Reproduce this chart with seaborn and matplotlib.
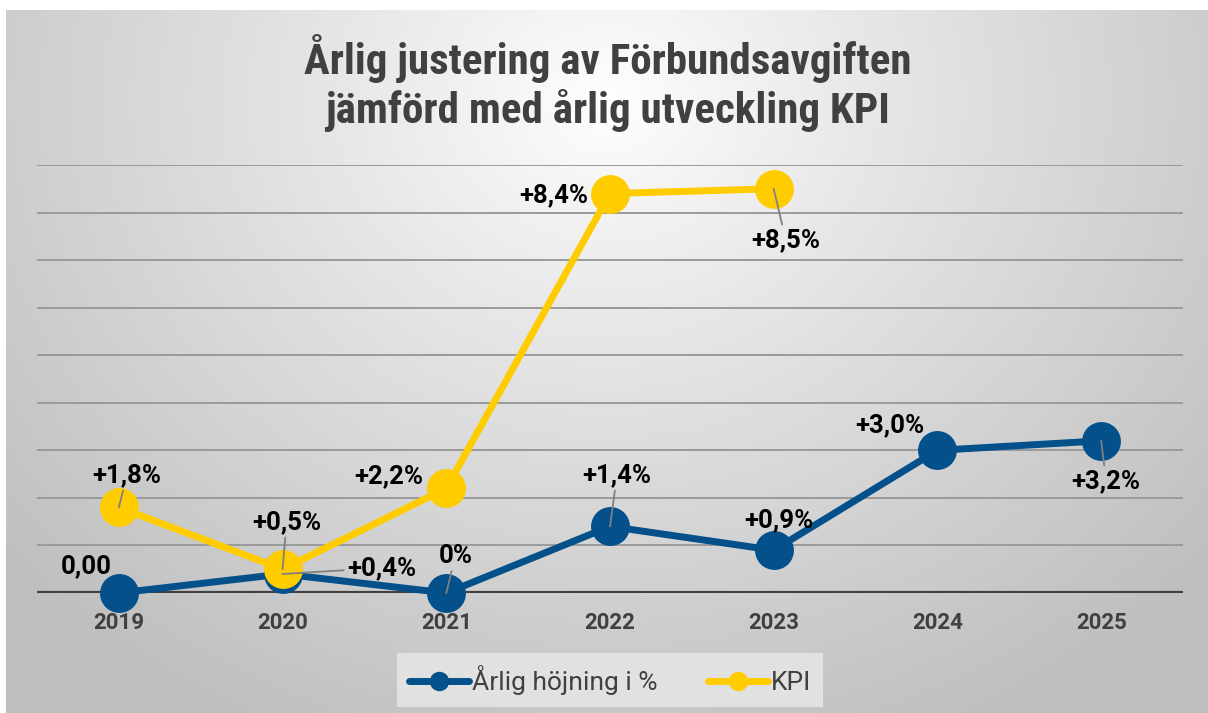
import numpy as np
import pandas as pd
import matplotlib
matplotlib.use('Agg')
import matplotlib.pyplot as plt
import seaborn as sns
from matplotlib.lines import Line2D

# Data
years = ['2019', '2020', '2021', '2022', '2023', '2024', '2025']
avgift = [0.0, 0.4, 0.0, 1.4, 0.9, 3.0, 3.2]
kpi = [1.8, 0.5, 2.2, 8.4, 8.5]
avgift_labels = ['0,00', '+0,4%', '0%', '+1,4%', '+0,9%', '+3,0%', '+3,2%']
kpi_labels = ['+1,8%', '+0,5%', '+2,2%', '+8,4%', '+8,5%']
series_names = ['Årlig höjning i %', 'KPI']

BLUE = '#03508A'
YELLOW = '#FFCC00'
TEXT_GREY = '#404040'

# label offsets in pixels (dx, dy, draw leader line)
avgift_offsets = [(-33, 27, False), (99, 6, True), (9, 37, True), (7, 51, True),
                  (5, 30, False), (-48, 25, False), (5, -40, True)]
kpi_offsets = [(8, 32, True), (4, 47, True), (-58, 12, False), (-56, -2, False),
               (12, -51, True)]

df = pd.concat([
    pd.DataFrame({'pos': range(len(avgift)), 'value': avgift, 'series': series_names[0]}),
    pd.DataFrame({'pos': range(len(kpi)), 'value': kpi, 'series': series_names[1]}),
], ignore_index=True)

sns.set_theme(style='white')
plt.rcParams['font.family'] = ['Roboto', 'DejaVu Sans']

fig = plt.figure(figsize=(12.08, 7.13), dpi=100)
fig.patch.set_facecolor('white')

# radial grey gradient behind the chart
bg = fig.add_axes([6 / 1208, 0, 1 - 6 / 1208, 1 - 10 / 713], zorder=-10)
h, w = 703, 1202
yy, xx = np.mgrid[0:h, 0:w]
d = np.sqrt(((xx - 600) / 800.0) ** 2 + ((yy - 90) / 700.0) ** 2)
shade = 255 - 64 * np.clip(d, 0, 1) ** 0.9
img = np.dstack([shade, shade, shade]).astype(np.uint8)
bg.imshow(img, aspect='auto', interpolation='bilinear')
bg.set_axis_off()

ax = fig.add_axes([37 / 1208, 1 - 593 / 713, (1183 - 37) / 1208, (593 - 165) / 713])
ax.patch.set_alpha(0)

sns.lineplot(data=df, x='pos', y='value', hue='series', hue_order=series_names,
             palette=[BLUE, YELLOW], marker='o', markersize=28, linewidth=5,
             markeredgewidth=0, legend=False, ax=ax, zorder=3)
for ln in ax.lines:
    ln.set_clip_on(False)

ax.set_xlim(-0.5, 6.5)
ax.set_ylim(0, 9)
ax.set_yticks(range(0, 10))
ax.set_yticklabels([])
ax.yaxis.grid(True, color='#9a9a9a', lw=1.4, zorder=0)
ax.axhline(0, color=TEXT_GREY, lw=3, zorder=2)
ax.set_xticks(range(len(years)))
ax.set_xticklabels(years, fontsize=16, fontweight='bold', color=TEXT_GREY)
ax.tick_params(axis='x', length=0, pad=14)
ax.tick_params(axis='y', length=0)
ax.set_xlabel('')
ax.set_ylabel('')
sns.despine(ax=ax, left=True, bottom=True, top=True, right=True)


def add_labels(values, labels, offsets):
    for i, (v, lab, (dx, dy, leader)) in enumerate(zip(values, labels, offsets)):
        arrow = dict(arrowstyle='-', color='#808080', lw=1.3, shrinkA=0, shrinkB=0) if leader else None
        ax.annotate(lab, xy=(i, v), xytext=(dx, dy), textcoords='offset pixels',
                    ha='center', va='center', fontsize=18.5, fontweight='bold',
                    color='black', arrowprops=arrow, zorder=6, annotation_clip=False)


add_labels(avgift, avgift_labels, avgift_offsets)
add_labels(kpi, kpi_labels, kpi_offsets)

fig.text(608 / 1208, 1 - 83 / 713,
         'Årlig justering av Förbundsavgiften\njämförd med årlig utveckling KPI',
         ha='center', va='center', fontsize=31, fontweight='bold', color=TEXT_GREY,
         linespacing=1.15, family=['Liberation Sans Narrow', 'Roboto Condensed', 'Roboto'])

handles = [Line2D([], [], color=c, lw=5, marker='o', markersize=14, markeredgewidth=0)
           for c in (BLUE, YELLOW)]
leg = fig.legend(handles, series_names, loc='center', bbox_to_anchor=(610 / 1208, 1 - 680 / 713),
                 ncol=2, frameon=True, fontsize=19, handlelength=2.3, handletextpad=0.1,
                 columnspacing=1.9, borderpad=0.45, fancybox=False)
leg.get_frame().set_facecolor('#e1e1e1')
leg.get_frame().set_edgecolor('none')
leg.get_frame().set_alpha(1)
for t in leg.get_texts():
    t.set_color(TEXT_GREY)

fig.savefig('out.png', dpi=100)
